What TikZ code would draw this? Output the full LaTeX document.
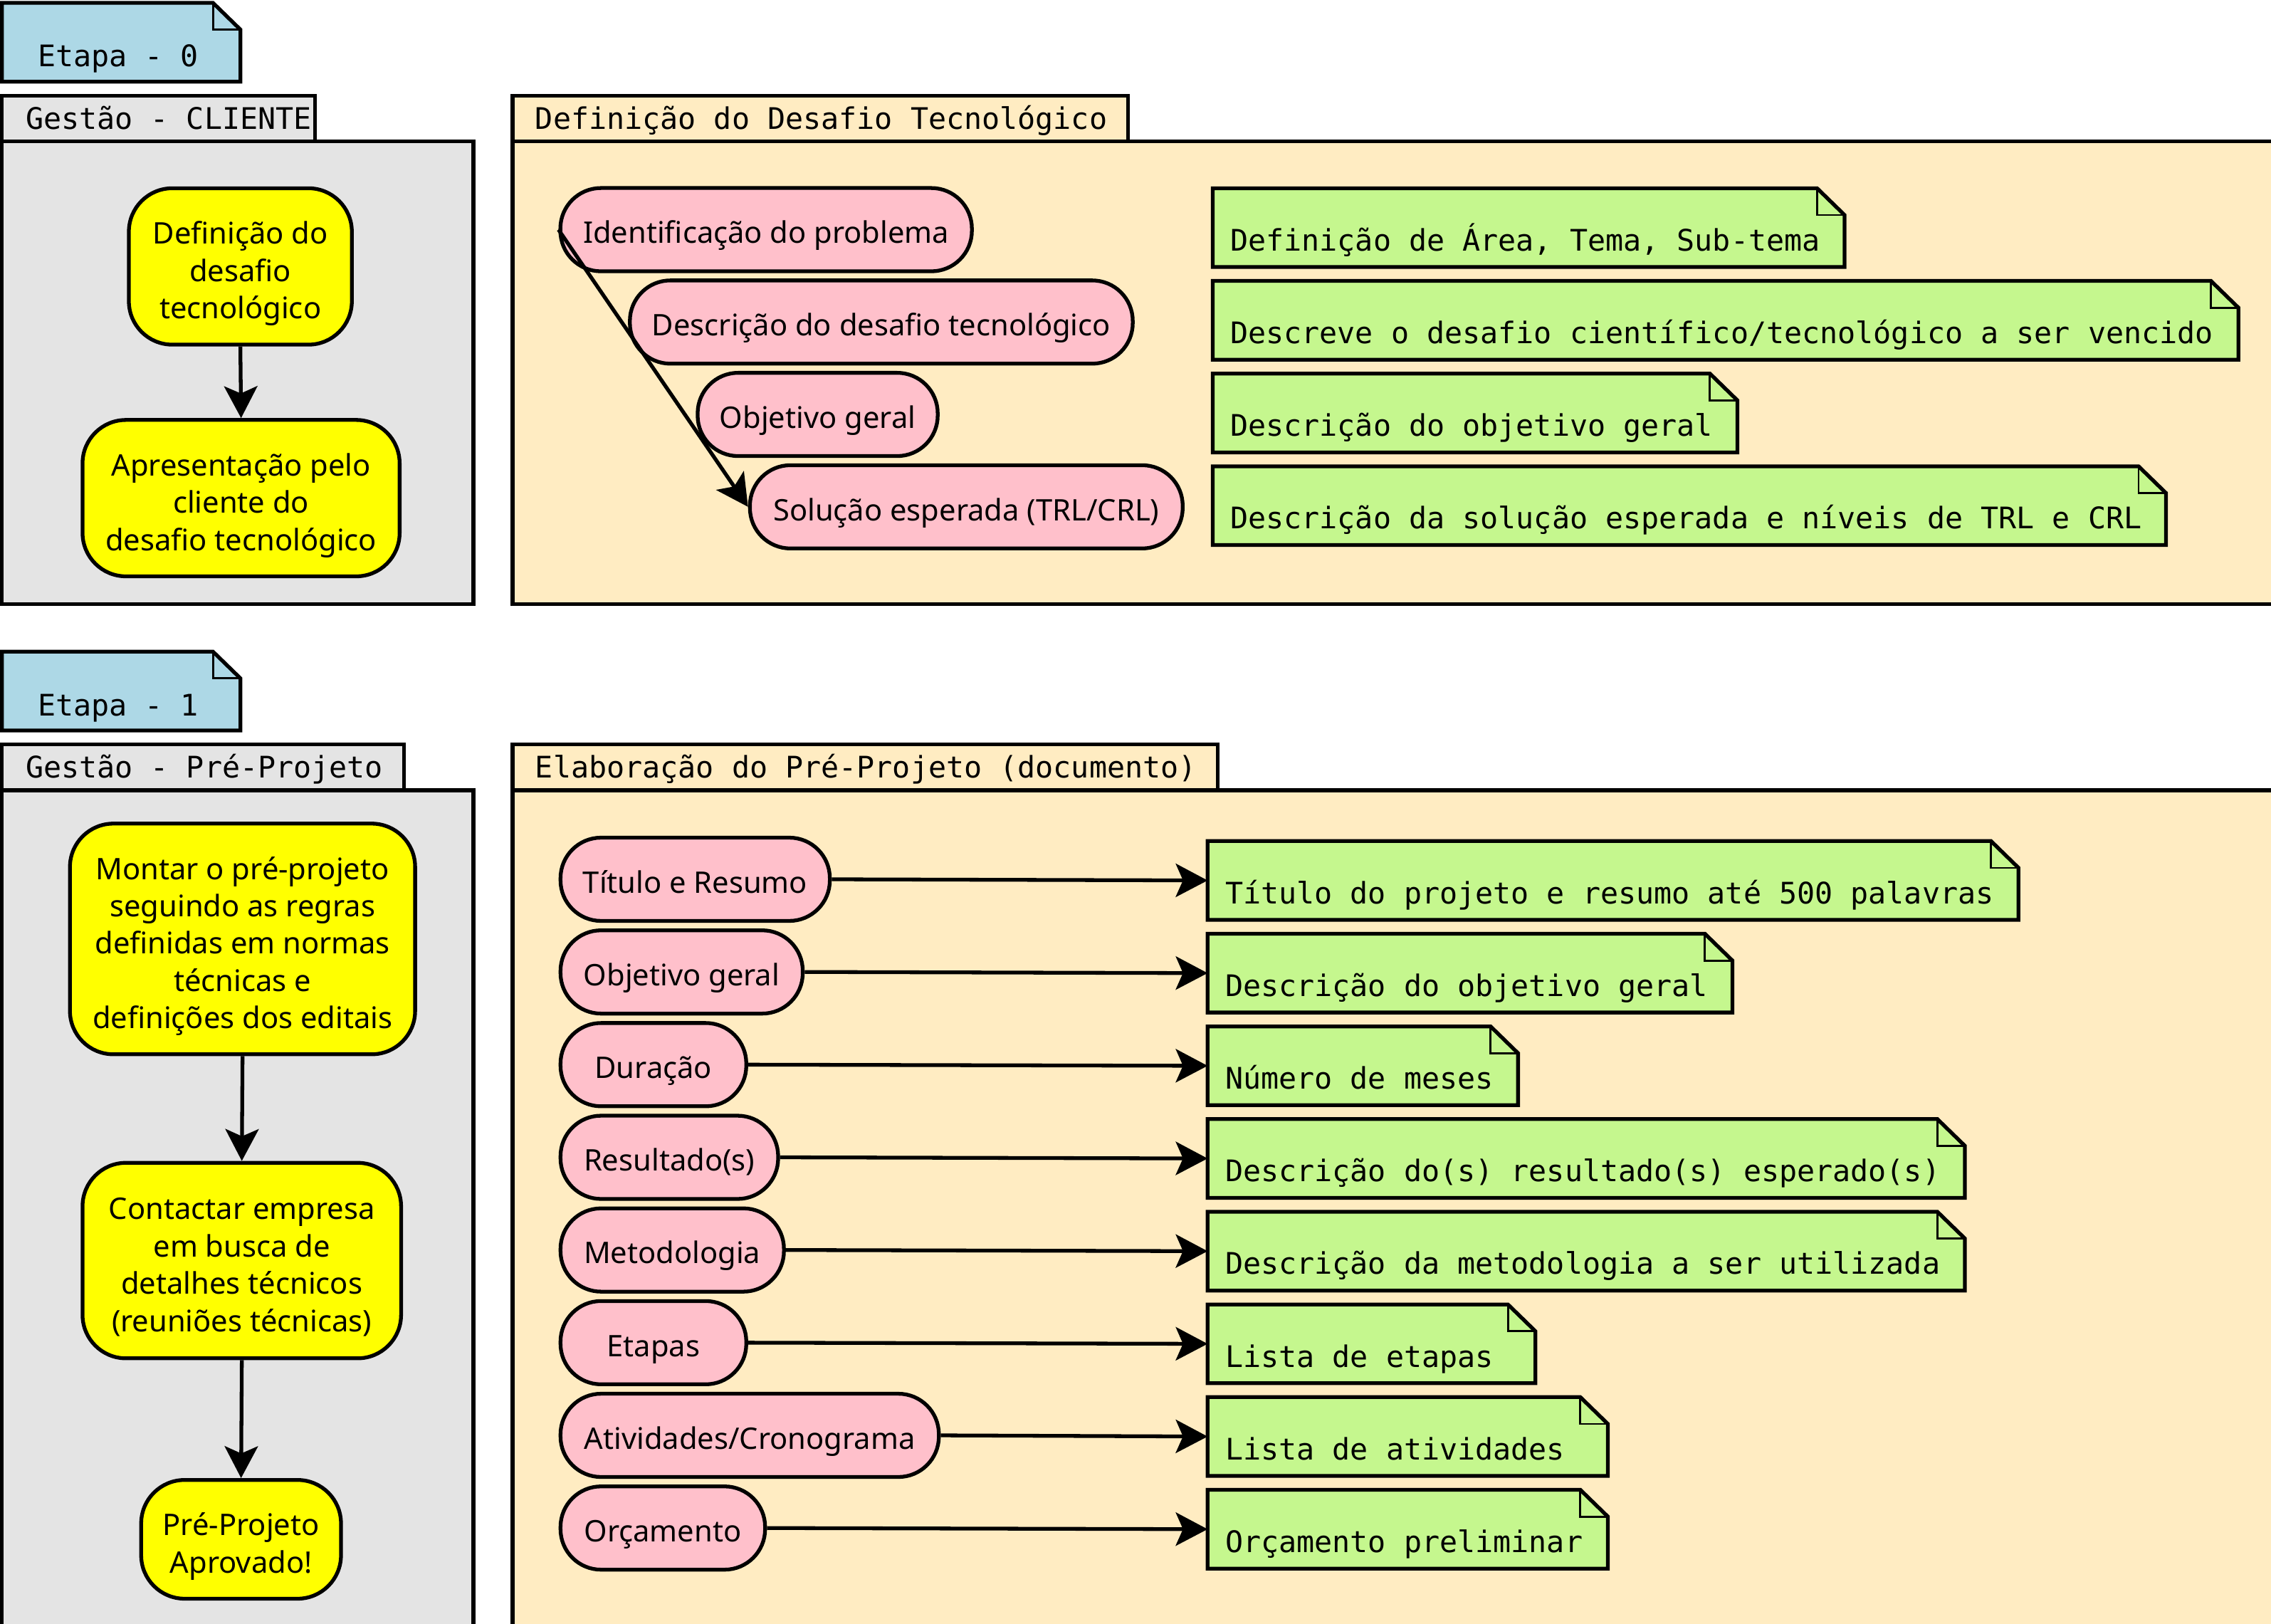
\documentclass[tikz,border=0pt]{standalone}
\usepackage{fontspec}
\setmainfont{Noto Sans}
\newfontfamily\monof{DejaVu Sans Mono}
\usetikzlibrary{arrows.meta}
\definecolor{cgray}{HTML}{E4E4E4}
\definecolor{cpale}{HTML}{FFECC2}
\definecolor{cgreen}{HTML}{C5F78E}
\definecolor{cpink}{HTML}{FFC0CB}
\definecolor{cblue}{HTML}{ADD8E6}
\definecolor{cyellow}{HTML}{FFFF00}
\pgfdeclarelayer{frames}
\pgfdeclarelayer{notebg}
\pgfsetlayers{frames,notebg,main}
\newcommand\ys{\rule[-5pt]{0pt}{25.8pt}}
\newcommand\yt{\rule[-5pt]{0pt}{30.8pt}}
\tikzset{
  strk/.style={line width=2.6pt, draw=black},
  sansfont/.style={font=\fontsize{20.5pt}{25.8pt}\selectfont},
  monofont/.style={font=\monof\fontsize{20.5pt}{25.8pt}\selectfont},
  framebox/.style={strk},
  tabtext/.style={monofont, anchor=base west, inner sep=0pt},
  actbox/.style={strk, fill=cyellow, rounded corners=30pt, sansfont, align=center, inner sep=4pt},
  pill/.style={strk, fill=cpink, rounded corners=28pt, sansfont, anchor=west, inner xsep=4pt, inner ysep=0pt, minimum height=57.5pt, text height=24.9pt, text depth=6pt},
  notetext/.style={monofont, anchor=north west, inner xsep=12pt, inner ysep=0pt, text height=43pt, text depth=11pt},
  etapa/.style={inner xsep=24.6pt, text height=44pt, text depth=10pt},
  noteline/.style={line width=2.6pt, line join=miter},
  foldline/.style={line width=1.4pt},
  flow/.style={line width=2.6pt, -{Stealth[length=22pt,width=23pt,inset=5pt]}},
}
% #1 extra style, #2 name, #3 x, #4 y(top), #5 text box width, #6 fill, #7 text
\newcommand\notebox[7][]{%
  \node[notetext,#1] (#2) at (#3,#4) {\makebox[#5pt][l]{#7}};
  \begin{pgfonlayer}{notebg}
    \draw[noteline, fill=#6] (#2.south west) -- (#2.north west) -- ([xshift=-19pt]#2.north east) -- ([yshift=-18.5pt]#2.north east) -- (#2.south east) -- cycle;
    \draw[foldline] ([xshift=-19pt]#2.north east) |- ([yshift=-18.5pt]#2.north east);
  \end{pgfonlayer}}
\begin{document}
\begin{tikzpicture}[x=1pt,y=-1pt]
\useasboundingbox (0,0) rectangle (1568.4,1121);

% ---------- frames
\begin{pgfonlayer}{frames}
  \draw[framebox, fill=cgray] (1.3,66) rectangle (217.5,97.7);
  \draw[framebox, fill=cgray] (1.3,97.7) rectangle (327,417);
  \draw[framebox, fill=cpale] (354,66) rectangle (779,97.7);
  \draw[framebox, fill=cpale] (354,97.7) rectangle (1640,417);
  \draw[framebox, fill=cgray] (1.3,514) rectangle (279,545.8);
  \draw[framebox, fill=cgray] (1.3,545.8) rectangle (327,1160);
  \draw[framebox, fill=cpale] (354,514) rectangle (841,545.8);
  \draw[framebox, fill=cpale] (354,545.8) rectangle (1640,1160);
\end{pgfonlayer}
\node[tabtext] (t0a) at (17.5,89) {Gestão - CLIENTE};
\node[tabtext] (t0b) at (369.5,89) {Definição do Desafio Tecnológico};
\node[tabtext] (t1a) at (17.5,537) {Gestão - Pré-Projeto};
\node[tabtext] (t1b) at (369.5,537) {Elaboração do Pré-Projeto (documento)};

% ---------- stage labels
\notebox[etapa]{e0}{1.3}{2}{115.2}{cblue}{Etapa - 0}
\notebox[etapa]{e1}{1.3}{450}{115.2}{cblue}{Etapa - 1}

% ---------- Etapa 0
\node[actbox, minimum width=154pt, minimum height=108pt] (a1) at (166,184)
  {\yt Definição do\\\ys desafio\\\ys tecnológico};
\node[actbox, minimum width=219pt, minimum height=108pt] (a2) at (166.5,344)
  {\yt Apresentação pelo\\\ys cliente do\\\ys desafio tecnológico};
\draw[flow] (a1.south) -- (a2.north);

\node[pill, minimum width=284.2pt] (u1) at (385.7,158.6) {Identificação do problema};
\node[pill, minimum width=347.3pt] (u2) at (433.7,222.4) {Descrição do desafio tecnológico};
\node[pill, minimum width=165.8pt] (u3) at (480.5,286.2) {Objetivo geral};
\node[pill, minimum width=298.9pt] (u4) at (516.6,350) {Solução esperada (TRL/CRL)};
\draw[flow] (u1.west) -- (u4.west);

\notebox{v1}{837.5}{130}{412}{cgreen}{Definição de Área, Tema, Sub-tema}
\notebox{v2}{837.5}{194}{684}{cgreen}{Descreve o desafio científico/tecnológico a ser vencido}
\notebox{v3}{837.5}{258}{338}{cgreen}{Descrição do objetivo geral}
\notebox{v4}{837.5}{322}{634}{cgreen}{Descrição da solução esperada e níveis de TRL e CRL}

% ---------- Etapa 1
\node[actbox, minimum width=238.4pt, minimum height=159.3pt] (b1) at (167.5,648.4)
  {\yt Montar o pré-projeto\\\ys seguindo as regras\\\ys definidas em normas\\\ys técnicas e\\\ys definições dos editais};
\node[actbox, minimum width=220pt, minimum height=135pt] (b2) at (167,870.5)
  {\yt Contactar empresa\\\ys em busca de\\\ys detalhes técnicos\\\ys (reuniões técnicas)};
\node[actbox, minimum width=138pt, minimum height=82pt] (b3) at (166.5,1063)
  {\yt Pré-Projeto\\\ys Aprovado!};
\draw[flow] (b1.south) -- (b2.north);
\draw[flow] (b2.south) -- (b3.north);

\node[pill, minimum width=186pt]   (p1) at (385.8,607.2) {Título e Resumo};
\node[pill, minimum width=167.3pt] (p2) at (385.8,671.2) {Objetivo geral};
\node[pill, minimum width=128.3pt] (p3) at (385.8,735.2) {Duração};
\node[pill, minimum width=150.3pt] (p4) at (385.8,799.2) {Resultado(s)};
\node[pill, minimum width=154.3pt] (p5) at (385.8,863.2) {Metodologia};
\node[pill, minimum width=128.3pt] (p6) at (385.8,927.2) {Etapas};
\node[pill, minimum width=261.3pt] (p7) at (385.8,991.2) {Atividades/Cronograma};
\node[pill, minimum width=141.3pt] (p8) at (385.8,1055.2) {Orçamento};

\notebox{n1}{834}{580.8}{535.6}{cgreen}{Título do projeto e resumo até 500 palavras}
\notebox{n2}{834}{644.8}{338}{cgreen}{Descrição do objetivo geral}
\notebox{n3}{834}{708.8}{190}{cgreen}{Número de meses}
\notebox{n4}{834}{772.8}{498.6}{cgreen}{Descrição do(s) resultado(s) esperado(s)}
\notebox{n5}{834}{836.8}{498.6}{cgreen}{Descrição da metodologia a ser utilizada}
\notebox{n6}{834}{900.8}{202}{cgreen}{Lista de etapas}
\notebox{n7}{834}{964.8}{252}{cgreen}{Lista de atividades}
\notebox{n8}{834}{1028.8}{252}{cgreen}{Orçamento preliminar}

\foreach \i in {1,...,8}{\draw[flow] (p\i.east) -- (n\i.west);}
\end{tikzpicture}
\end{document}
